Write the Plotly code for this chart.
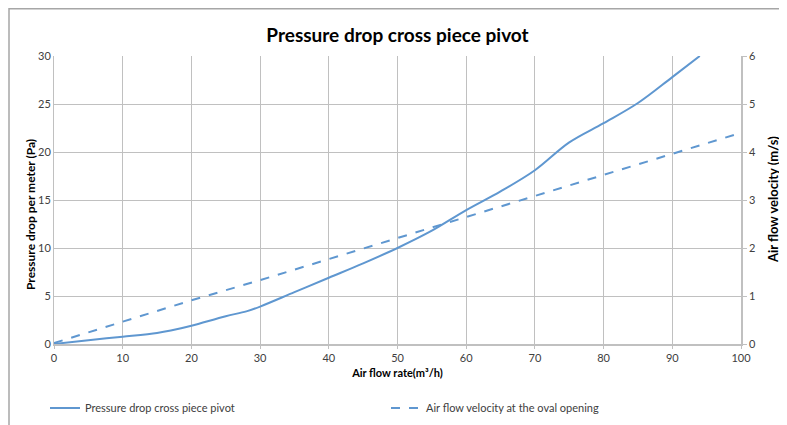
import plotly.graph_objects as go

# Air flow rate (m3/h)
flow_pressure = [0, 5, 10, 15, 17, 20, 25, 28, 30, 35, 40, 45, 50, 55, 60, 65, 70, 75, 80, 85, 90, 94]
# Pressure drop per meter (Pa)
pressure = [0, 0.4, 0.76, 1.15, 1.4, 1.9, 2.9, 3.4, 3.9, 5.4, 6.9, 8.4, 10.0, 11.8, 13.95, 15.9, 18.1, 21.0, 23.0, 25.1, 27.8, 30.0]

flow_velocity = [0, 10, 20, 30, 40, 50, 60, 70, 80, 90, 100]
# Air flow velocity at the oval opening (m/s)
velocity = [0.02, 0.46, 0.91, 1.33, 1.77, 2.21, 2.65, 3.08, 3.52, 3.96, 4.4]

BLUE = '#5f97d0'
GRID = '#c0c0c0'
TEXT = '#404040'
FONT = 'Lato'

# page body adds an 8px margin, so figure pixel = screen pixel - 8
OFF = 8
W, H = 787 - OFF, 425 - OFF
# plot area on screen: x 54..741, y 56..344
L, T = 54 - OFF, 56 - OFF
R, B = W - (741 - OFF), H - (344 - OFF)
PW, PH = W - L - R, H - T - B


def px_x(p):
    # screen pixel -> paper x
    return (p - OFF - L) / PW


def px_y(p):
    # screen pixel -> paper y
    return (H - B - (p - OFF)) / PH


fig = go.Figure()

fig.add_trace(go.Scatter(
    x=flow_pressure, y=pressure, mode='lines', line_shape='spline',
    name='Pressure drop cross piece pivot', showlegend=True,
    line=dict(color=BLUE, width=2), legend='legend',
))
fig.add_trace(go.Scatter(
    x=flow_velocity, y=velocity, mode='lines', yaxis='y2',
    name='Air flow velocity at the oval opening', showlegend=True,
    line=dict(color=BLUE, width=2, dash='dash'), legend='legend2',
))

fig.update_layout(
    width=W, height=H,
    margin=dict(l=L, r=R, t=T, b=B, autoexpand=False),
    showlegend=True,
    paper_bgcolor='white', plot_bgcolor='white',
    font=dict(family=FONT, color=TEXT, size=11),
    title=dict(text='<b>Pressure drop cross piece pivot</b>', x=0.5, xanchor='center',
               y=1 - (35 - OFF) / H, yanchor='middle', automargin=False,
               font=dict(size=19, color='black', family=FONT)),
    xaxis=dict(
        range=[0, 100], dtick=10, showgrid=True, gridcolor=GRID, gridwidth=1,
        showline=True, linecolor=GRID, linewidth=1.5, zeroline=False,
        ticks='outside', ticklen=3, tickcolor=GRID, automargin=False,
        title=dict(text='<b>Air flow rate(m³/h)</b>', standoff=6,
                   font=dict(size=11, color='black', family=FONT)),
    ),
    yaxis=dict(
        range=[0, 30], dtick=5, showgrid=True, gridcolor=GRID, gridwidth=1,
        showline=True, linecolor=GRID, linewidth=1, zeroline=False, ticks='',
        automargin=False,
    ),
    yaxis2=dict(
        range=[0, 6], dtick=1, overlaying='y', side='right', showgrid=False,
        showline=True, linecolor=GRID, linewidth=1.5, zeroline=False,
        ticks='outside', ticklen=4, tickcolor=GRID, automargin=False,
    ),
    annotations=[
        dict(text='<b>Pressure drop per meter (Pa)</b>', textangle=-90,
             xref='paper', yref='paper', x=px_x(31), y=px_y(215),
             xanchor='center', yanchor='middle', showarrow=False,
             font=dict(size=12, color='black', family=FONT)),
        dict(text='<b>Air flow velocity (m/s)</b>', textangle=-90,
             xref='paper', yref='paper', x=px_x(773), y=px_y(200),
             xanchor='center', yanchor='middle', showarrow=False,
             font=dict(size=13, color='black', family=FONT)),
    ],
    legend=dict(x=px_x(45), y=px_y(408), xanchor='left', yanchor='middle', orientation='h',
                font=dict(size=11, color=TEXT), bgcolor='rgba(0,0,0,0)', itemwidth=30),
    legend2=dict(x=px_x(386), y=px_y(408), xanchor='left', yanchor='middle', orientation='h',
                 font=dict(size=11, color=TEXT), bgcolor='rgba(0,0,0,0)', itemwidth=30),
    shapes=[dict(type='rect', xref='paper', yref='paper',
                 x0=px_x(9), x1=1.2, y0=-0.5, y1=px_y(8.7),
                 line=dict(color='#a6a6a6', width=1.5), layer='below')],
)

fig.write_html('out.html')
